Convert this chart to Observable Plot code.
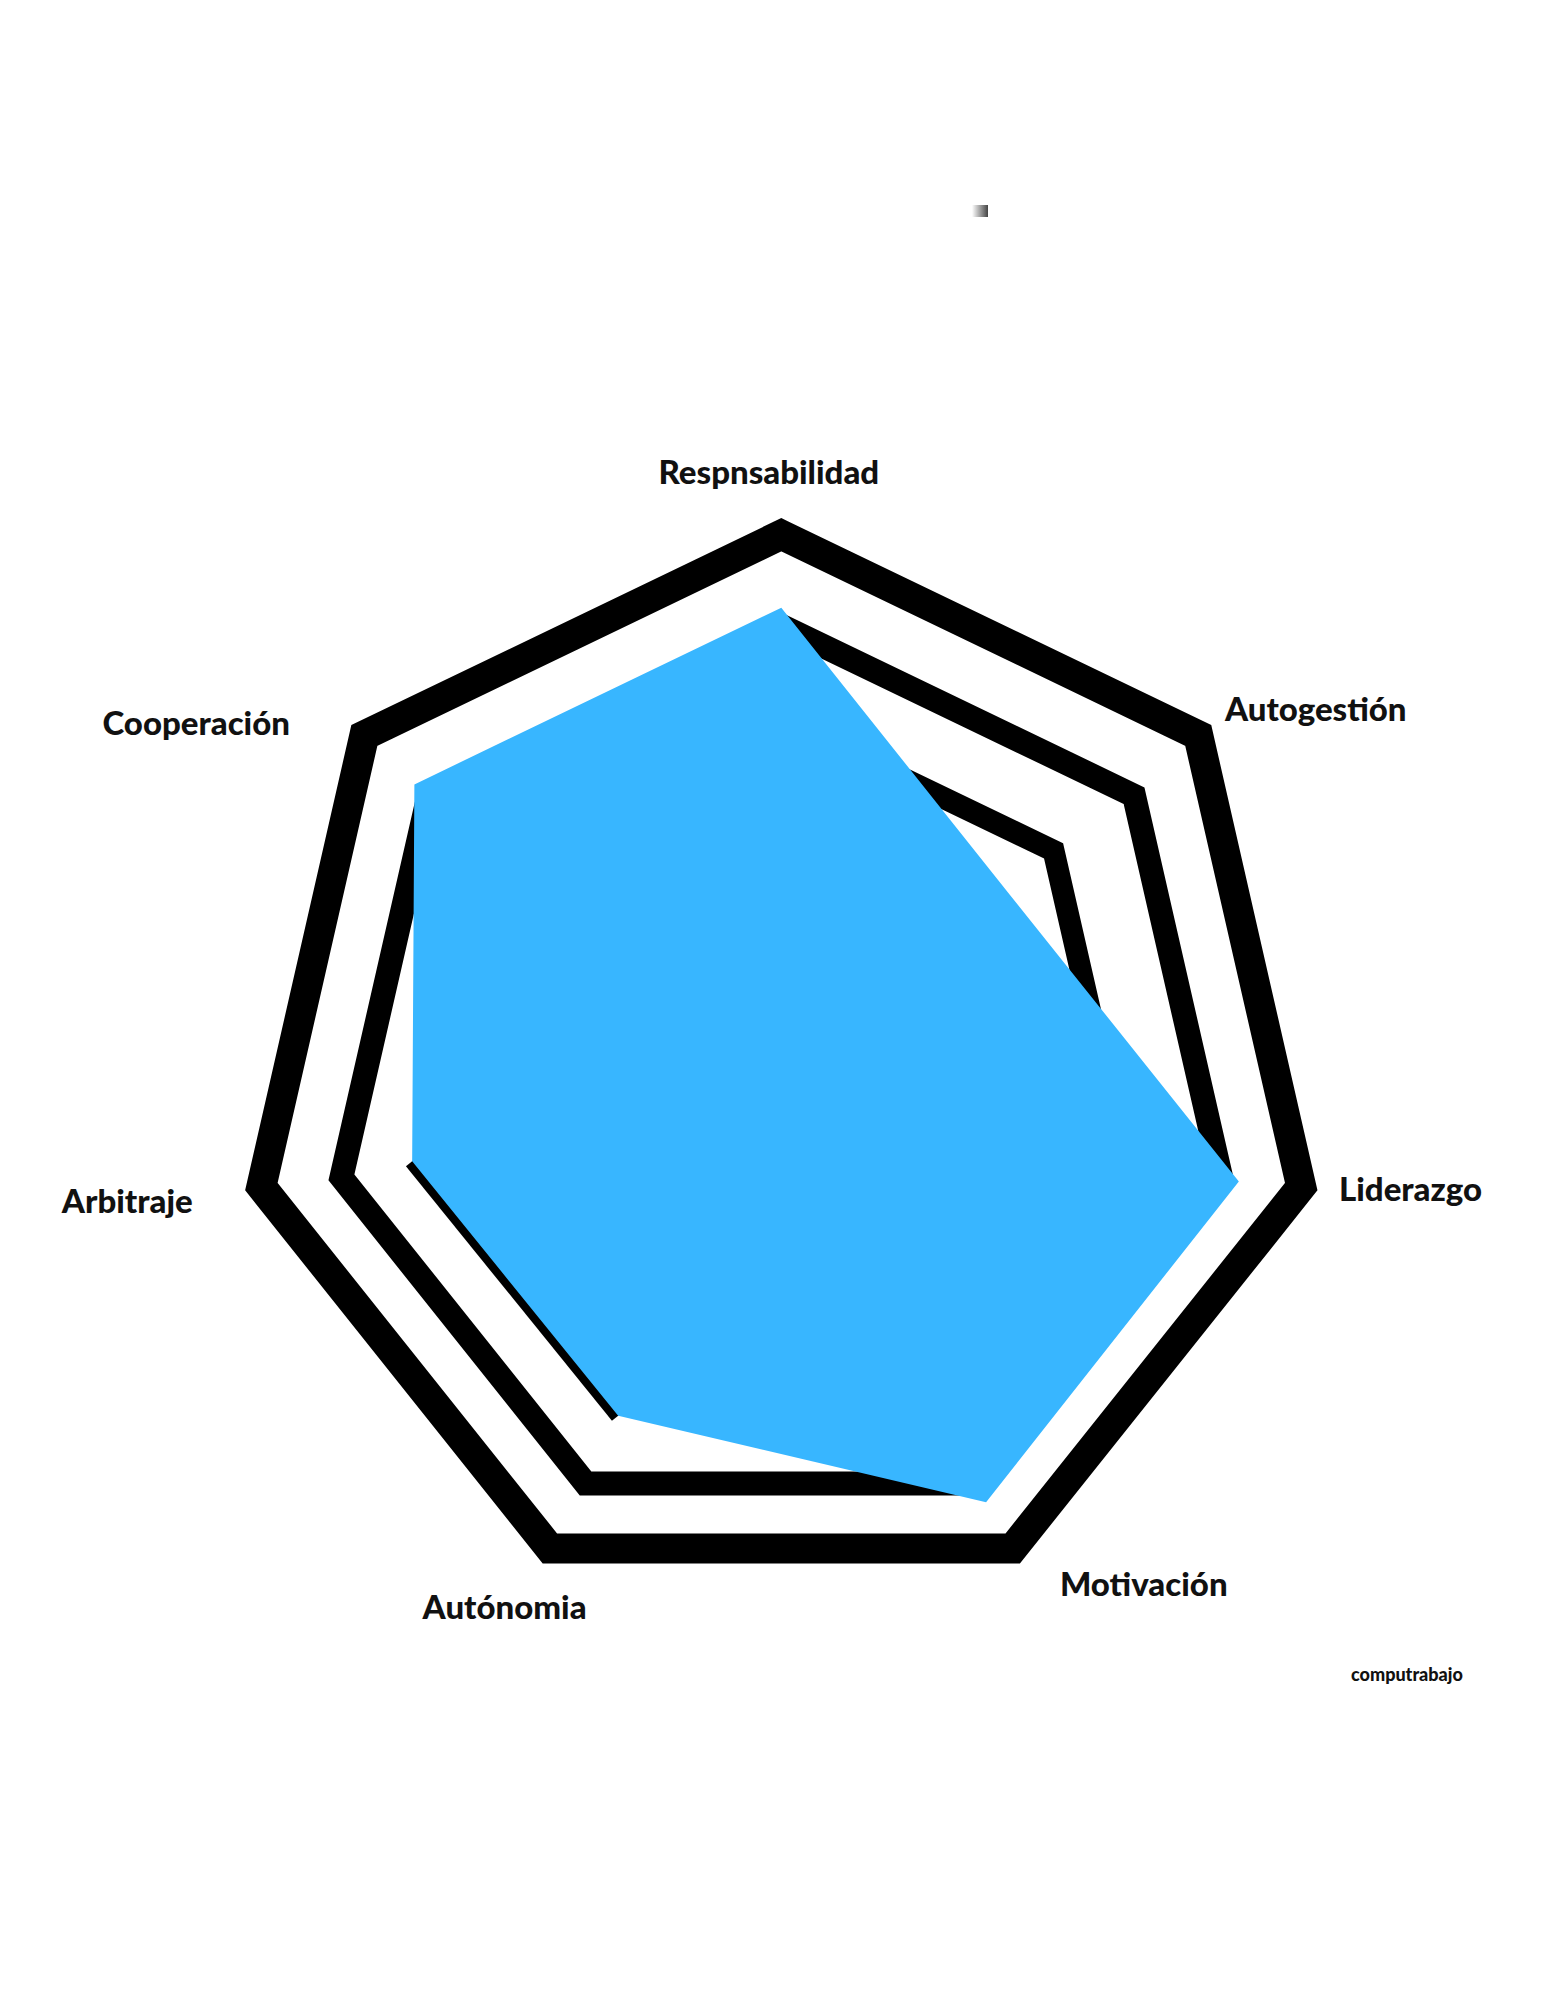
<!DOCTYPE html>
<html><head><meta charset="utf-8">
<script src="https://cdn.jsdelivr.net/npm/d3@7"></script>
<script src="https://cdn.jsdelivr.net/npm/@observablehq/plot@0.6"></script>
<style>
body{margin:0;background:#fff;}
#wrap{position:relative;width:1545px;height:2000px;overflow:hidden;}
#mark{position:absolute;left:972px;top:205px;width:16px;height:12px;background:linear-gradient(to right,#fff,#444);}
#credit{position:absolute;left:1351px;top:1663px;font:900 18px Lato,sans-serif;color:#111;}
#chart{position:absolute;left:0;top:0;}
</style></head><body>
<div id="wrap"><div id="chart"></div><div id="mark"></div><div id="credit">computrabajo</div></div>
<script>
// ---- data ----
const categories = ["Respnsabilidad","Autogestión","Liderazgo","Motivación","Autónomia","Arbitraje","Cooperación"];
const values = [88, 54.8, 88, 88.5, 70.5, 71, 88];
const ringLevels = [65.3, 84.6, 100];

// ---- layout ----
const W = 1545, H = 2000, cx = 780.8, cy = 1067.5, k = 5.333;
const ringStroke = [22, 24, 30];
const ringShift = [0, 9, 0];
const labelAngle = [-1.2, 56.2, 101.0, 145.0, 207.1, 258.4, 300.4];
const labelRadius = [111.5, 120.6, 120.2, 118.5, 113.9, 125.2, 127.2];

const n = categories.length;
const axisAngle = i => (i * 2 * Math.PI) / n;
const polar = (r, a) => ({x: r * Math.sin(a), y: r * Math.cos(a)});

const dataPts = categories.map((c, i) => ({cat: c, ...polar(values[i], axisAngle(i))}));
const edgePts = [dataPts[5], dataPts[4]]; // Arbitraje -> Autónomia outline
const labelPts = categories.map((c, i) => ({cat: c, ...polar(labelRadius[i], labelAngle[i] * Math.PI / 180)}));

const ringMarks = ringLevels.map((lv, j) =>
  Plot.line(categories.map((c, i) => ({level: lv, ...polar(lv, axisAngle(i))})), {
    x: "x", y: "y", curve: "linear-closed", stroke: "black",
    strokeWidth: ringStroke[j], strokeLinejoin: "miter", strokeMiterlimit: 10,
    fill: "none", dy: ringShift[j]
  })
);

const chart = Plot.plot({
  width: W, height: H,
  margin: 0,
  x: {domain: [-cx / k, (W - cx) / k], range: [0, W], axis: null},
  y: {domain: [-(H - cy) / k, cy / k], range: [H, 0], axis: null},
  style: {background: "transparent"},
  marks: [
    ...ringMarks,
    Plot.line(edgePts, {x: "x", y: "y", stroke: "black", strokeWidth: 16, strokeLinecap: "butt", dy: 9}),
    Plot.line(dataPts, {x: "x", y: "y", curve: "linear-closed", fill: "#38b6ff", stroke: "none", dy: 9}),
    Plot.text(labelPts, {x: "x", y: "y", text: "cat", fontSize: 33, fontWeight: 900,
      fontFamily: "Lato, sans-serif", fill: "#111", textAnchor: "middle", lineAnchor: "middle"})
  ]
});
document.getElementById("chart").appendChild(chart);
</script>
</body></html>
